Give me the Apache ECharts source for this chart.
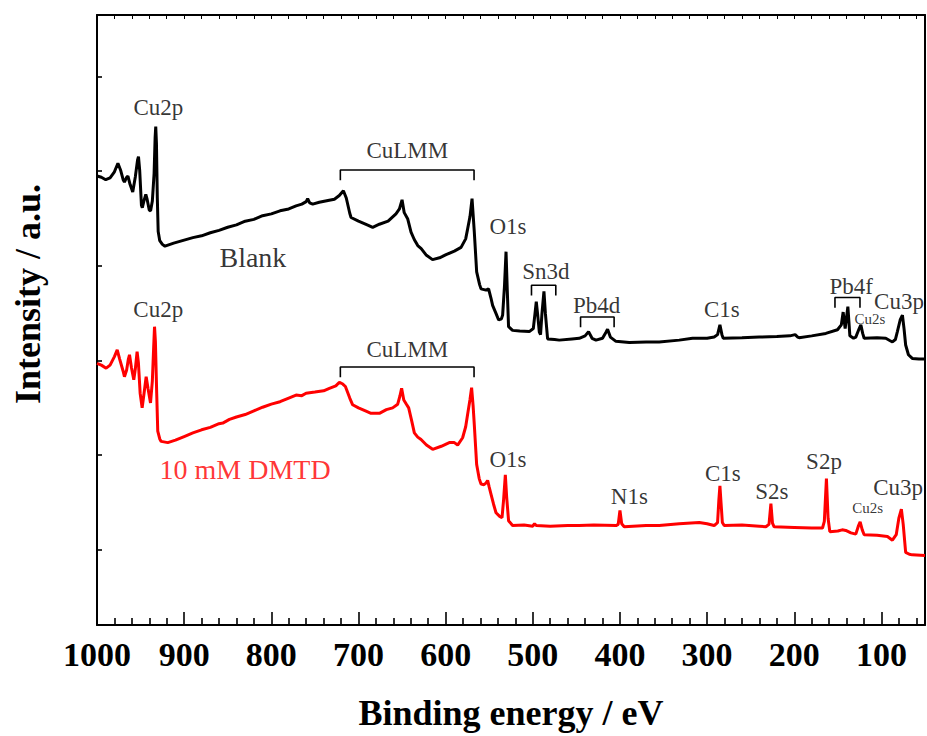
<!DOCTYPE html>
<html>
<head>
<meta charset="utf-8">
<title>XPS survey spectra</title>
<script src="https://cdn.jsdelivr.net/npm/echarts@6/dist/echarts.min.js"></script>
<style>
  html, body { margin: 0; padding: 0; background: #fff; }
  #chart { width: 927px; height: 736px; }
</style>
</head>
<body>
<div id="chart"></div>
<script>
// Binding energy ticks (eV)
const energyTicks = [100, 200, 300, 400, 500, 600, 700, 800, 900, 1000];
// Positions of the small marks on the left intensity axis (a.u.)
const intensityTicks = [12.4, 27.9, 43.4, 58.9, 74.4, 89.9];

// Survey spectrum, untreated copper ("Blank"): [binding energy, intensity]
const blankSpectrum = [
  [1000, 73.6], [995, 73.4], [990, 73.0], [985, 73.3], [980, 74.3], [976, 75.7],
  [973, 74.6], [970, 73.0], [968.5, 72.6], [966, 73.4], [964.5, 73.6], [962, 72.2],
  [959, 71.0], [956, 73.5], [953.5, 76.2], [952.4, 76.8], [951, 74.5], [949, 68.8],
  [948, 68.4], [946, 69.6], [944, 70.6], [942.5, 69.8], [940, 68.0], [938.5, 67.9],
  [936.5, 69.5], [934.5, 74.0], [933.3, 80.0], [932.6, 81.7], [931.8, 79.0],
  [930.8, 70.0], [929.8, 64.5], [928, 63.0], [925, 62.4], [922, 62.1], [912, 62.6],
  [900, 63.1], [890, 63.5], [880, 63.8], [870, 64.3], [860, 64.7], [850, 65.2],
  [840, 65.6], [830, 66.2], [820, 66.5], [810, 67.1], [800, 67.4], [790, 67.9],
  [780, 68.2], [771.6, 68.7], [765, 69.0], [760, 69.4], [758.3, 69.9], [756, 69.2],
  [752.5, 69.0], [745, 69.3], [735, 69.6], [727.6, 69.8], [722, 70.4], [717.3, 71.2],
  [714, 70.0], [710, 67.5], [708.5, 66.8], [700, 66.2], [690, 65.6], [683.7, 65.2],
  [676, 65.7], [666, 66.2], [657, 67.4], [653, 68.2], [650, 69.7], [647.5, 67.6],
  [643.6, 66.6], [639.7, 64.4], [636, 63.2], [632, 62.2], [628, 61.7], [622, 60.6],
  [615, 59.9], [607, 60.2], [599.5, 60.7], [590, 61.3], [582.3, 61.9], [577, 63.3],
  [574.8, 64.9], [572, 67.0], [569.7, 69.9], [567.1, 64.4], [564.4, 57.9], [561, 55.8],
  [559.4, 55.1], [553.7, 54.9], [550.7, 55.1], [548, 53.6], [546.1, 52.4], [542, 51.0],
  [539.2, 50.0], [536, 50.2], [534.6, 50.8], [532.5, 55.5], [530.7, 61.2], [529.3, 55.0],
  [527.8, 48.9], [523.2, 48.3], [515, 48.2], [504, 48.1], [499.4, 48.6], [497.5, 51.0],
  [496, 53.0], [494.5, 51.0], [492.5, 48.0], [491.1, 47.6], [489.5, 51.0], [487.2, 54.7],
  [485.5, 51.0], [483, 46.9], [475, 46.8], [469.6, 46.7], [455, 46.9], [446.7, 47.0],
  [440, 47.4], [436, 48.1], [432, 47.0], [427.5, 46.7], [420, 47.0], [416, 48.0],
  [414.2, 48.5], [411, 47.2], [404.6, 46.5], [389.3, 46.3], [370, 46.4], [355, 46.4],
  [332, 46.7], [316.7, 47.0], [300, 47.0], [291.9, 47.2], [288, 47.6], [285.3, 49.2],
  [283, 47.6], [281.5, 47.0], [260, 47.1], [240.2, 47.2], [220, 47.3], [205, 47.4],
  [199, 47.6], [196, 47.2], [194.4, 47.1], [180, 47.4], [163.8, 47.8], [150.4, 48.4],
  [146, 49.2], [143.9, 51.3], [141.6, 48.6], [138.5, 52.2], [136.2, 47.4], [132, 47.0],
  [129.4, 47.2], [125.5, 48.6], [123.6, 49.2], [121.5, 47.8], [119.8, 47.0], [105, 47.1],
  [95, 47.0], [90, 46.6], [87.4, 46.4], [84, 46.8], [81.7, 48.1], [78.5, 50.0],
  [75.9, 50.8], [74, 48.5], [72.2, 45.9], [69, 44.3], [64.6, 43.7], [57, 43.6], [50, 43.6]
];

// Survey spectrum after 10 mM DMTD treatment: [binding energy, intensity]
const dmtdSpectrum = [
  [1000, 42.9], [995, 42.6], [989.5, 42.1], [985, 42.6], [980, 44.0], [976.8, 45.1],
  [974, 43.6], [970, 41.6], [968.5, 40.7], [966, 41.8], [964, 43.6], [962.7, 44.3],
  [960.5, 42.2], [957.8, 40.2], [956, 42.0], [954, 44.8], [952.5, 43.0], [950.5, 38.0],
  [948.2, 35.6], [946, 38.0], [943.6, 40.7], [941.5, 38.8], [938.6, 36.4], [936.5, 40.0],
  [935, 45.5], [934, 48.9], [933, 46.5], [931.5, 38.0], [930.3, 31.8], [928, 30.5],
  [926.4, 30.1], [918.8, 29.9], [910, 30.3], [900, 30.9], [890, 31.5], [880, 32.0],
  [870, 32.4], [860, 33.0], [855.7, 33.1], [848, 33.7], [840, 34.1], [830, 34.5],
  [820, 35.1], [810, 35.7], [800, 36.2], [790, 36.6], [780, 37.2], [771.6, 37.7],
  [765, 37.6], [760.1, 38.0], [750, 38.2], [740, 38.4], [733.4, 38.8], [726, 39.2],
  [721.9, 39.8], [718, 39.5], [715, 39.1], [710, 37.2], [706.7, 36.1], [700, 35.6],
  [692, 35.1], [685.6, 34.7], [676, 34.7], [668, 35.3], [660.8, 35.6], [655, 36.2],
  [652.5, 37.5], [650.5, 38.8], [648, 36.9], [645, 36.2], [642.4, 35.6], [639, 33.5],
  [635.9, 31.5], [632, 30.8], [628.2, 30.4], [622, 29.5], [614.9, 28.8], [605, 29.3],
  [595.8, 29.9], [590, 29.9], [586.2, 29.5], [580.5, 30.7], [577, 32.5], [574.8, 34.5],
  [572, 37.0], [570.2, 38.9], [568.5, 36.0], [567.1, 32.8], [564.4, 26.3], [561.5, 24.0],
  [559.4, 23.1], [556, 23.0], [553.5, 23.3], [551.8, 23.7], [550, 22.6], [547.9, 21.4],
  [545, 19.8], [542.2, 18.4], [538, 17.8], [535.3, 17.6], [533.5, 20.5], [531.5, 24.6],
  [530, 21.0], [527.8, 17.1], [523.2, 16.3], [510, 16.4], [500, 16.2], [498, 16.6],
  [496, 16.3], [480, 16.2], [460, 16.3], [446.7, 16.3], [430, 16.4], [404.6, 16.3],
  [402, 16.5], [400, 18.8], [398, 16.6], [395.1, 16.1], [370, 16.3], [355, 16.3],
  [332, 16.6], [309.1, 16.8], [300, 16.6], [291.9, 16.3], [288, 16.8], [286.5, 20.5],
  [285.3, 22.8], [284, 20.0], [282.5, 16.8], [280.4, 16.3], [260, 16.4], [240, 16.2],
  [232.6, 16.1], [229, 16.5], [226.8, 19.9], [225, 16.7], [223.1, 16.1], [200, 16.0],
  [180, 15.9], [167.6, 15.9], [165.5, 17.0], [163.1, 24.0], [161.2, 17.5], [159.2, 15.3],
  [150, 15.4], [145, 15.6], [140.9, 15.5], [135, 15.1], [129.4, 14.9], [126.5, 16.2],
  [124.4, 16.9], [122, 15.6], [119.8, 14.8], [105, 14.7], [93.1, 14.5], [87.4, 13.9],
  [83, 14.8], [80, 17.5], [77.1, 19.0], [75, 16.5], [72.2, 11.9], [68, 11.6],
  [64.6, 11.5], [50, 11.4]
];

// Peak assignments: [binding energy, intensity, text]
const peakLabels = [
  [929.5, 84.8, 'Cu2p'], [644, 77.8, 'CuLMM'], [528.4, 65.3, 'O1s'],
  [485.1, 58.0, 'Sn3d'], [426.8, 52.3, 'Pb4d'], [283.0, 51.7, 'C1s'],
  [134.7, 55.5, 'Pb4f'], [79.8, 53.0, 'Cu3p'],
  [929.7, 51.7, 'Cu2p'], [644, 45.2, 'CuLMM'], [528.4, 27.1, 'O1s'],
  [389.2, 21.0, 'N1s'], [281.9, 24.8, 'C1s'], [225.6, 21.9, 'S2s'],
  [165.9, 26.8, 'S2p'], [80.9, 22.5, 'Cu3p']
];
const minorPeakLabels = [
  [113.1, 50.2, 'Cu2s'], [115.9, 19.1, 'Cu2s']
];
// Sample names next to each spectrum: [binding energy, intensity, text]
const sampleLabels = [
  [821.1, 60.2, 'Blank'],
  [830.1, 25.5, '10 mM DMTD']
];
// Brackets grouping multiplet peaks: [start energy, end energy, intensity]
const brackets = [
  [720.8, 567.4, 74.6], [720.8, 567.4, 42.3],
  [501.5, 473.6, 55.7], [445.2, 406.7, 50.5], [153.3, 124.6, 53.7]
];

const serif = "'Liberation Serif', 'Times New Roman', serif";
const bracketDrop = 1.7;

const minorEnergyTicks = [];
for (let e = 60; e < 1000; e += 20) {
  if (e % 100 !== 0) minorEnergyTicks.push(e);
}
const topEnergyTicks = [];
for (let e = 60; e <= 1000; e += 20) topEnergyTicks.push(e);

const chart = echarts.init(document.getElementById('chart'), null, { renderer: 'svg' });

function textSeries(items, size, color) {
  return {
    type: 'scatter',
    silent: true,
    symbolSize: 0,
    data: items.map(d => ({ value: [d[0], d[1]], name: d[2] })),
    label: {
      show: true,
      position: 'inside',
      formatter: p => p.name,
      fontFamily: serif,
      fontSize: size,
      color: color,
      align: 'center',
      verticalAlign: 'middle'
    },
    z: 5
  };
}

const bracketSeries = brackets.map(b => ({
  type: 'line',
  silent: true,
  symbol: 'none',
  lineStyle: { color: '#000', width: 1.6 },
  data: [[b[0], b[2] - bracketDrop], [b[0], b[2]], [b[1], b[2]], [b[1], b[2] - bracketDrop]],
  z: 4
}));

const energyAxisBase = {
  type: 'value',
  min: 50,
  max: 1000,
  inverse: true,
  splitLine: { show: false },
  axisPointer: { show: false }
};

chart.setOption({
  animation: false,
  backgroundColor: '#fff',
  grid: { left: 97, right: 2, top: 15, bottom: 108, containLabel: false },
  xAxis: [
    Object.assign({}, energyAxisBase, {
      position: 'bottom',
      name: 'Binding energy / eV',
      nameLocation: 'middle',
      nameGap: 70,
      nameTextStyle: { fontFamily: serif, fontSize: 36, fontWeight: 'bold', color: '#000' },
      axisLine: { show: true, onZero: false, lineStyle: { color: '#000', width: 2 } },
      axisTick: { show: true, inside: true, length: 13, customValues: energyTicks,
                  lineStyle: { color: '#000', width: 1.6 } },
      axisLabel: { show: true, customValues: energyTicks, margin: 12,
                   formatter: v => String(v),
                   fontFamily: serif, fontSize: 34, fontWeight: 'bold', color: '#000' }
    }),
    Object.assign({}, energyAxisBase, {
      position: 'bottom',
      axisLine: { show: false, onZero: false },
      axisTick: { show: true, inside: true, length: 7, customValues: minorEnergyTicks,
                  lineStyle: { color: '#000', width: 1.6 } },
      axisLabel: { show: false }
    }),
    Object.assign({}, energyAxisBase, {
      position: 'top',
      axisLine: { show: true, onZero: false, lineStyle: { color: '#000', width: 2 } },
      axisTick: { show: true, inside: true, length: 4, customValues: topEnergyTicks,
                  lineStyle: { color: '#000', width: 1 } },
      axisLabel: { show: false }
    })
  ],
  yAxis: [
    {
      type: 'value', min: 0, max: 100, position: 'left',
      splitLine: { show: false },
      axisLine: { show: true, onZero: false, lineStyle: { color: '#000', width: 2 } },
      axisTick: { show: true, inside: true, length: 5, customValues: intensityTicks,
                  lineStyle: { color: '#000', width: 1.6 } },
      axisLabel: { show: false }
    },
    {
      type: 'value', min: 0, max: 100, position: 'right',
      splitLine: { show: false },
      axisLine: { show: true, onZero: false, lineStyle: { color: '#000', width: 2 } },
      axisTick: { show: false },
      axisLabel: { show: false }
    }
  ],
  graphic: [{
    type: 'text',
    x: 28,
    y: 294,
    rotation: Math.PI / 2,
    style: {
      text: 'Intensity / a.u.',
      font: "bold 36px 'Liberation Serif', 'Times New Roman', serif",
      fill: '#000',
      textAlign: 'center',
      textVerticalAlign: 'middle'
    }
  }],
  series: [
    {
      name: 'Blank',
      type: 'line',
      symbol: 'none',
      silent: true,
      data: blankSpectrum,
      lineStyle: { color: '#000', width: 3 },
      z: 3
    },
    {
      name: '10 mM DMTD',
      type: 'line',
      symbol: 'none',
      silent: true,
      data: dmtdSpectrum,
      lineStyle: { color: '#ff0000', width: 3 },
      z: 3
    },
    textSeries(peakLabels, 23, '#000'),
    textSeries(minorPeakLabels, 15, '#000'),
    textSeries(sampleLabels.slice(0, 1), 28, '#000'),
    textSeries(sampleLabels.slice(1), 28, '#ff0000')
  ].concat(bracketSeries)
});
</script>
</body>
</html>
